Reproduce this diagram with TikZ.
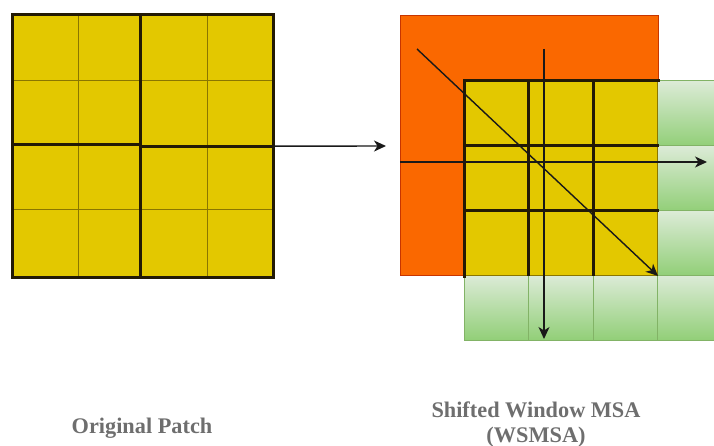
\documentclass[tikz,border=0pt]{standalone}
\usepackage{fontspec}
\setmainfont{Liberation Serif}
\usetikzlibrary{arrows.meta}

\definecolor{patchyellow}{HTML}{E3C800}
\definecolor{patchline}{HTML}{8A7600}
\definecolor{winorange}{HTML}{FA6800}
\definecolor{winedge}{HTML}{C73500}
\definecolor{greentop}{HTML}{DCEBD7}
\definecolor{greenbot}{HTML}{92CF78}
\definecolor{greenedge}{HTML}{82B366}
\definecolor{gridink}{HTML}{231A05}
\definecolor{captiongray}{HTML}{6E6E6E}

\begin{document}
\begin{tikzpicture}[x=1pt,y=-1pt,
  thinline/.style={draw=patchline, line width=1pt},
  thickline/.style={draw=gridink, line width=3pt, line cap=rect},
  gcell/.style={top color=greentop, bottom color=greenbot, draw=greenedge, line width=1pt},
  flow/.style={draw=black!90, line width=1.4pt, -{Stealth[length=12pt,width=11pt,inset=3.5pt]}},
  caption/.style={font=\fontsize{22.3}{26}\selectfont\bfseries, text=captiongray, inner sep=0, anchor=base}]
\useasboundingbox (0,0) rectangle (714,446);
\clip (0,0) rectangle (714,446);

% ---- original patch: 4x4 cells grouped into 2x2 windows ----
\node[fill=patchyellow, minimum width=261pt, minimum height=262pt, inner sep=0,
      anchor=north west] (orig) at (12,15) {};
\draw[thinline] (78,15) -- (78,277) (207,15) -- (207,277)
                (12,81) -- (273,81) (12,210) -- (273,210);
\draw[thickline] (orig.north west) rectangle (orig.south east);
\draw[thickline] (140,15) -- (140,277)
                 (12,145) -- (140,145) (140,147) -- (273,147);

% connector to the shifted layout
\coordinate (shiftin) at (386,146);
\draw[flow] (orig.east) -- (shiftin);

% ---- shifted window ----
\node[fill=winorange, draw=winedge, line width=0.8pt, minimum width=258pt,
      minimum height=260pt, inner sep=0, anchor=north west] (win) at (400,15) {};

% padded cells on the right and bottom
\foreach \ya/\yb in {81/146, 146/211, 211/275, 275/340}
  \path[gcell] (657,\ya) rectangle (722,\yb);
\foreach \xa/\xb in {464/528, 528/593, 593/657}
  \path[gcell] (\xa,275) rectangle (\xb,340);

% 3x3 shifted patch grid
\node[fill=patchyellow, draw=patchline, line width=1pt, minimum width=193pt,
      minimum height=194pt, inner sep=0, anchor=north west] (shift) at (464,81) {};
\draw[thickline] (shift.south west) -- (shift.north west) -- (shift.north east);
\draw[thickline] (528,81) -- (528,274) (593,81) -- (593,274)
                 (464,146) -- (657,146) (464,211) -- (657,211);

% directions of the shift
\coordinate (vtop) at (544,49);
\coordinate (vbot) at (544,339);
\coordinate (hleft) at (400,162);
\coordinate (hright) at (707,162);
\coordinate (dtop) at (417,49);
\coordinate (dbot) at (658,276);
\draw[flow] (vtop) -- (vbot);
\draw[flow] (hleft) -- (hright);
\draw[flow] (dtop) -- (dbot);

% ---- captions ----
\node[caption] (origcap) at (142,433) {Original Patch};
\node[caption] (shiftcap) at (536,417) {Shifted Window MSA};
\node[caption] (shiftabbr) at (536,442) {(WSMSA)};
\end{tikzpicture}
\end{document}
